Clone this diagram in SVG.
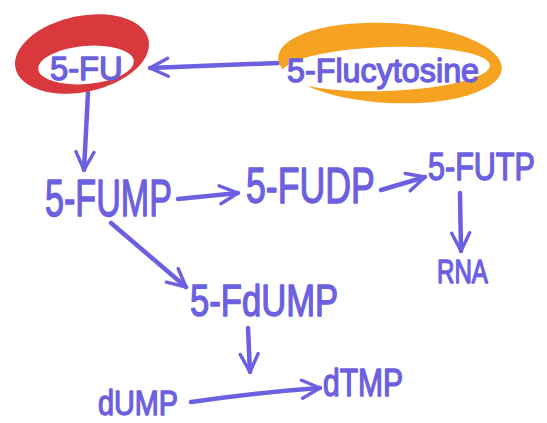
<svg xmlns="http://www.w3.org/2000/svg" width="547" height="423" viewBox="0 0 547 423">
  <defs>
    <style>
      .ink { font-family: "Liberation Sans", Arial, sans-serif; fill: #6c5fe0; stroke: #6c5fe0; stroke-width: 1.4; stroke-linejoin: round; }
      .line { fill: none; stroke: #6c5fe0; stroke-width: 4.5; stroke-linecap: round; stroke-linejoin: round; }
    </style>
    <marker id="head" viewBox="0 0 20 20" refX="18" refY="10" markerWidth="5" markerHeight="5" markerUnits="strokeWidth" orient="auto">
      <path d="M2,2 L18,10 L2,18" fill="none" stroke="#6c5fe0" stroke-width="3" stroke-linecap="round" stroke-linejoin="round"/>
    </marker>
  </defs>
  <rect width="547" height="423" fill="#ffffff"/>

  <!-- connectors -->
  <g id="connectors">
    <path class="line" d="M278,63 L150,68" marker-end="url(#head)"/>
    <path class="line" d="M88,93 L84,170" marker-end="url(#head)"/>
    <path class="line" d="M178,199 L238,193" marker-end="url(#head)"/>
    <path class="line" d="M381,190 L425,177" marker-end="url(#head)"/>
    <path class="line" d="M460,193 L461,251" marker-end="url(#head)"/>
    <path class="line" d="M111,223 L186,287" marker-end="url(#head)"/>
    <path class="line" d="M248,328 L250,372" marker-end="url(#head)"/>
    <path class="line" d="M191,402 Q260,392 320,388" marker-end="url(#head)"/>
  </g>

  <!-- 5-FU -->
  <g id="node-5fu">
    <ellipse cx="82" cy="54" rx="68" ry="38" transform="rotate(-12 82 54)" fill="#d9383c"/>
    <ellipse cx="86" cy="65" rx="48" ry="19" transform="rotate(-5 86 65)" fill="#ffffff"/>
    <text class="ink" font-size="34" transform="translate(50 80) scale(0.963 1)">5-FU</text>
  </g>

  <!-- 5-Flucytosine -->
  <g id="node-5flucytosine">
    <ellipse cx="390" cy="63" rx="112" ry="40" transform="rotate(3 390 63)" fill="#f6a321"/>
    <ellipse cx="386" cy="69" rx="104" ry="22" transform="rotate(-2 386 69)" fill="#ffffff"/>
    <text class="ink" font-size="34" transform="translate(287 82) scale(0.95 1)">5-Flucytosine</text>
  </g>

  <g id="node-5fump">
    <text class="ink" font-size="52" transform="translate(45 216) scale(0.656 1)">5-FUMP</text>
  </g>
  <g id="node-5fudp">
    <text class="ink" font-size="50" transform="translate(246 203) scale(0.714 1)">5-FUDP</text>
  </g>
  <g id="node-5futp">
    <text class="ink" font-size="38" transform="translate(428 180) scale(0.804 1)">5-FUTP</text>
  </g>
  <g id="node-rna">
    <text class="ink" font-size="34" transform="translate(437 283) scale(0.71 1)">RNA</text>
  </g>
  <g id="node-5fdump">
    <text class="ink" font-size="44" transform="translate(190 316) scale(0.787 1)">5-FdUMP</text>
  </g>
  <g id="node-dump">
    <text class="ink" font-size="36" transform="translate(98 415) scale(0.8 1)">dUMP</text>
  </g>
  <g id="node-dtmp">
    <text class="ink" font-size="38" transform="translate(323 396) scale(0.79 1)">dTMP</text>
  </g>
</svg>
